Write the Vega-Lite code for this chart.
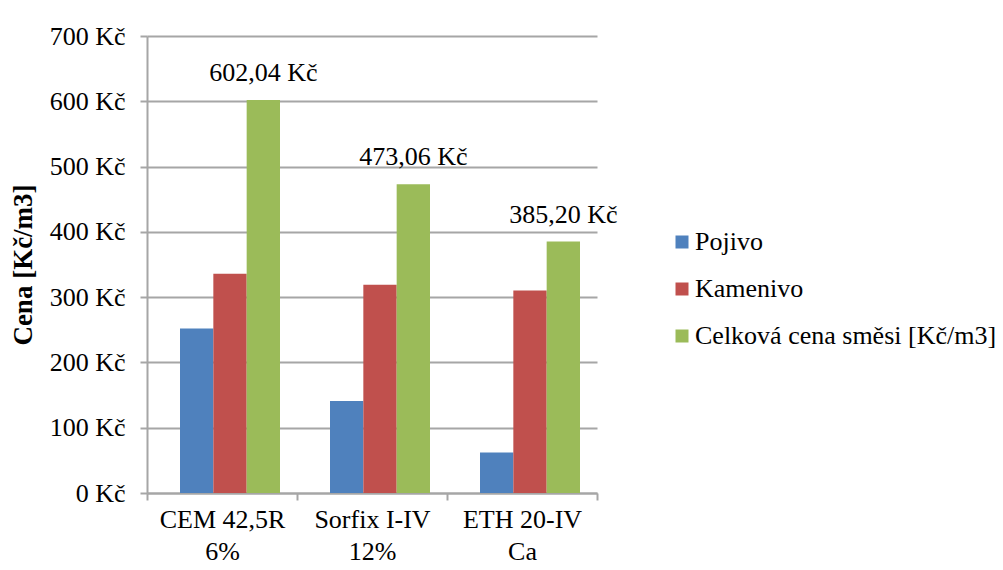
{
  "$schema": "https://vega.github.io/schema/vega-lite/v6.json",
  "autosize": {"type": "none"},
  "padding": {"left": 147, "top": 36, "right": 406, "bottom": 77},
  "width": 450,
  "height": 457,
  "background": "white",
  "config": {
    "locale": {"number": {"decimal": ",", "thousands": " ", "grouping": [3], "currency": ["", " Kč"]}},
    "font": "Liberation Serif",
    "view": {"stroke": null}
  },
  "data": {
    "values": [
      {"kategorie": "CEM 42,5R\n6%", "serie": "Pojivo", "cena": 252},
      {"kategorie": "CEM 42,5R\n6%", "serie": "Kamenivo", "cena": 336},
      {"kategorie": "CEM 42,5R\n6%", "serie": "Celková cena směsi [Kč/m3]", "cena": 602.04},
      {"kategorie": "Sorfix I-IV\n12%", "serie": "Pojivo", "cena": 141},
      {"kategorie": "Sorfix I-IV\n12%", "serie": "Kamenivo", "cena": 319},
      {"kategorie": "Sorfix I-IV\n12%", "serie": "Celková cena směsi [Kč/m3]", "cena": 473.06},
      {"kategorie": "ETH 20-IV\nCa", "serie": "Pojivo", "cena": 62},
      {"kategorie": "ETH 20-IV\nCa", "serie": "Kamenivo", "cena": 310},
      {"kategorie": "ETH 20-IV\nCa", "serie": "Celková cena směsi [Kč/m3]", "cena": 385.2}
    ]
  },
  "encoding": {
    "x": {
      "field": "kategorie", "type": "nominal", "sort": null,
      "scale": {"paddingInner": 0, "paddingOuter": 0},
      "axis": {
        "title": null, "labelAngle": 0, "labelExpr": "split(datum.label, '\\n')",
        "labelFontSize": 26, "labelColor": "#000", "labelLineHeight": 32,
        "labelPadding": 6, "tickBand": "extent", "tickSize": 7, "tickColor": "#a6a6a6",
        "tickWidth": 2, "domainColor": "#a6a6a6", "domainWidth": 2, "grid": false
      }
    },
    "xOffset": {
      "field": "serie", "type": "nominal",
      "sort": ["Pojivo", "Kamenivo", "Celková cena směsi [Kč/m3]"],
      "scale": {"range": [33, 133]}
    },
    "y": {
      "field": "cena", "type": "quantitative",
      "scale": {"domain": [0, 700]},
      "axis": {
        "title": "Cena [Kč/m3]", "titleFontSize": 27, "titleFontWeight": "bold", "titleColor": "#000",
        "titleX": -124, "titleBaseline": "middle",
        "values": [0, 100, 200, 300, 400, 500, 600, 700], "format": "$d", "labelOverlap": false,
        "labelFontSize": 26, "labelColor": "#000", "labelPadding": 15,
        "tickSize": 7, "tickColor": "#a6a6a6", "tickWidth": 2,
        "domainColor": "#a6a6a6", "domainWidth": 2,
        "grid": true, "gridColor": "#a6a6a6", "gridWidth": 2
      }
    }
  },
  "layer": [
    {
      "mark": {"type": "bar"},
      "encoding": {
        "color": {
          "field": "serie", "type": "nominal",
          "sort": ["Pojivo", "Kamenivo", "Celková cena směsi [Kč/m3]"],
          "scale": {"domain": ["Pojivo", "Kamenivo", "Celková cena směsi [Kč/m3]"], "range": ["#4F81BD", "#C0504D", "#9BBB59"]},
          "legend": {
            "title": null, "orient": "none", "legendX": 522, "legendY": 193,
            "symbolType": "square", "symbolSize": 169, "symbolStrokeWidth": 0,
            "labelFontSize": 26, "labelColor": "#000", "labelOffset": 0, "rowPadding": 21,
            "padding": 0, "labelLimit": 400
          }
        }
      }
    },
    {
      "transform": [{"filter": "datum.serie === 'Celková cena směsi [Kč/m3]'"}],
      "mark": {"type": "text", "baseline": "alphabetic", "dy": -19, "fontSize": 26, "color": "#000"},
      "encoding": {
        "text": {"field": "cena", "type": "quantitative", "format": "$.2f"}
      }
    }
  ]
}
